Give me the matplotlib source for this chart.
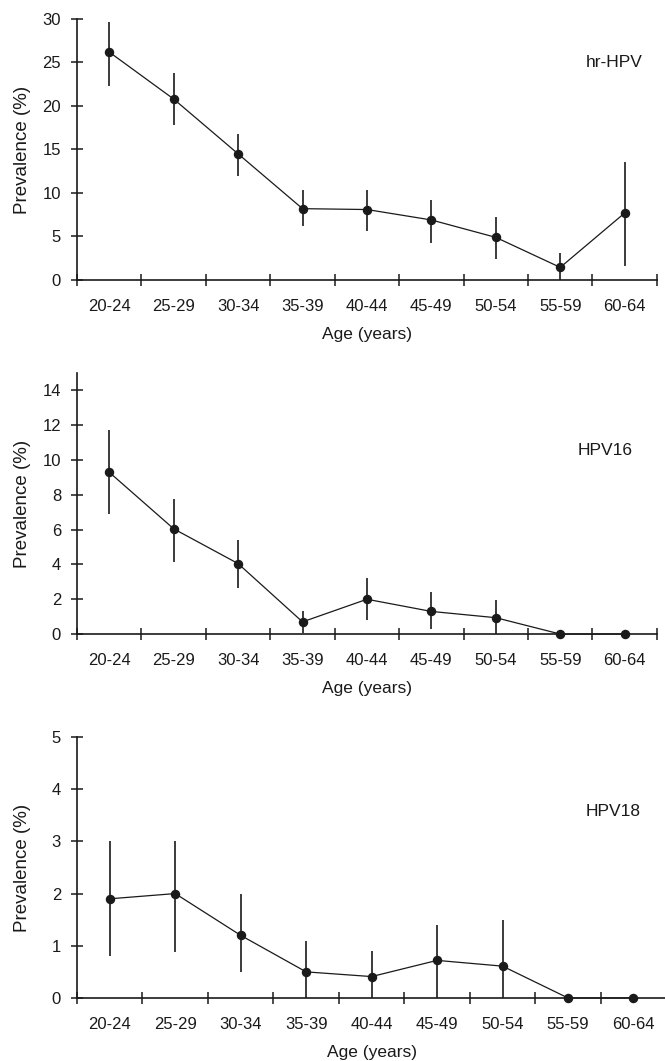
from matplotlib import pyplot as plt
import numpy as np

# Age groups and prevalence (%) with 95% CI bounds
Age_Group = ['20-24', '25-29', '30-34', '35-39', '40-44', '45-49', '50-54', '55-59', '60-64']

hr_HPV = [26.2, 20.8, 14.5, 8.2, 8.1, 6.9, 4.9, 1.45, 7.7]
hr_HPV_low = [22.3, 17.8, 11.9, 6.2, 5.6, 4.3, 2.4, 0.0, 1.6]
hr_HPV_high = [29.6, 23.8, 16.8, 10.4, 10.4, 9.2, 7.2, 3.1, 13.6]

HPV16 = [9.3, 6.05, 4.05, 0.7, 2.0, 1.3, 0.94, 0.0, 0.0]
HPV16_low = [6.9, 4.15, 2.65, 0.05, 0.82, 0.29, 0.0, 0.0, 0.0]
HPV16_high = [11.7, 7.75, 5.4, 1.3, 3.2, 2.44, 1.93, 0.0, 0.0]

HPV18 = [1.9, 2.0, 1.2, 0.5, 0.41, 0.72, 0.61, 0.0, 0.0]
HPV18_low = [0.8, 0.88, 0.5, 0.0, 0.0, 0.0, 0.0, 0.0, 0.0]
HPV18_high = [3.0, 3.0, 2.0, 1.1, 0.9, 1.4, 1.5, 0.0, 0.0]

plt.rcParams['font.family'] = ['Liberation Sans', 'DejaVu Sans']
col = '#1a1a1a'

fig = plt.figure(figsize=(6.65, 10.61), dpi=100)

# panel layout in figure fractions
panels = [
    dict(pos=[0.1158, 0.7361, 0.872, 0.246], y=hr_HPV, lo=hr_HPV_low, hi=hr_HPV_high,
         ymax=30, yticks=np.arange(0, 31, 5), name='hr-HPV', tx=0.926, ty=0.835),
    dict(pos=[0.1158, 0.4024, 0.872, 0.246], y=HPV16, lo=HPV16_low, hi=HPV16_high,
         ymax=15, yticks=np.arange(0, 15, 2), name='HPV16', tx=0.91, ty=0.705),
    dict(pos=[0.1158, 0.0594, 0.886, 0.246], y=HPV18, lo=HPV18_low, hi=HPV18_high,
         ymax=5, yticks=np.arange(0, 6, 1), name='HPV18', tx=0.91, ty=0.713),
]

x = np.arange(len(Age_Group))
for p in panels:
    ax = fig.add_axes(p['pos'])
    y = np.array(p['y'])
    yerr = [y - np.array(p['lo']), np.array(p['hi']) - y]
    ax.errorbar(x, y, yerr=yerr, fmt='none', ecolor=col, elinewidth=1.2, capsize=0, clip_on=False)
    ax.plot(x, y, '-o', color=col, lw=0.9, markersize=5.8, clip_on=False, zorder=3)

    ax.set_xlim(-0.5, len(Age_Group) - 0.5)
    ax.set_ylim(0, p['ymax'])
    ax.set_yticks(p['yticks'])
    ax.set_xticks(np.arange(len(Age_Group) + 1) - 0.5)
    ax.set_xticklabels([])
    ax.set_xticks(x, minor=True)
    ax.set_xticklabels(Age_Group, minor=True)
    ax.tick_params(axis='x', which='minor', length=0, pad=14, labelsize=12, colors=col)
    ax.tick_params(axis='both', which='major', direction='inout', length=8, width=1.1,
                   labelsize=12, colors=col)
    ax.tick_params(axis='y', pad=7.5)

    for s in ['top', 'right']:
        ax.spines[s].set_visible(False)
    for s in ['left', 'bottom']:
        ax.spines[s].set_linewidth(1.2)
        ax.spines[s].set_color(col)

    w_px = p['pos'][2] * 665
    ax.set_ylabel('Prevalence (%)', fontsize=13.5, color=col)
    ax.yaxis.set_label_coords(-46 / w_px, 0.5)
    ax.set_xlabel('Age (years)', fontsize=12.5, color=col, labelpad=9)
    ax.text(p['tx'], p['ty'], p['name'], transform=ax.transAxes, ha='center', va='center',
            fontsize=12.5, color=col)

plt.savefig('out.png', dpi=100)
